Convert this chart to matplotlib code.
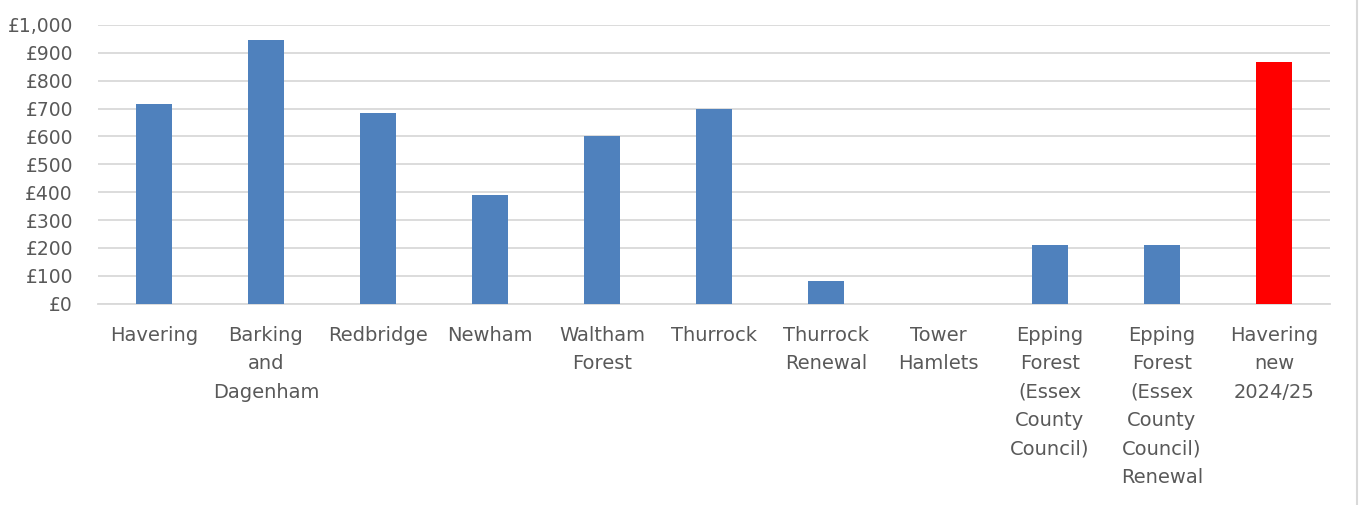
import matplotlib
matplotlib.use("Agg")
import matplotlib.pyplot as plt
from matplotlib.ticker import FuncFormatter, MultipleLocator
from matplotlib.lines import Line2D

categories = [
    "Havering",
    "Barking\nand\nDagenham",
    "Redbridge",
    "Newham",
    "Waltham\nForest",
    "Thurrock",
    "Thurrock\nRenewal",
    "Tower\nHamlets",
    "Epping\nForest\n(Essex\nCounty\nCouncil)",
    "Epping\nForest\n(Essex\nCounty\nCouncil)\nRenewal",
    "Havering\nnew\n2024/25",
]
values = [715, 945, 685, 390, 600, 700, 80, 0, 210, 210, 866]
bar_colors = ["#4F81BD"] * 10 + ["#FF0000"]

text_color = "#595959"
grid_color = "#D9D9D9"

plt.rcParams["font.family"] = ["DejaVu Sans"]

fig = plt.figure(figsize=(13.65, 5.05), dpi=100)
ax = fig.add_axes([98 / 1365, 1 - 303.7 / 505, (1330 - 98) / 1365, (303.7 - 25) / 505])

x = list(range(len(categories)))
ax.bar(x, values, width=0.32, color=bar_colors, zorder=3)

ax.set_xlim(-0.5, len(categories) - 0.5)
ax.set_ylim(0, 1000)
ax.yaxis.set_major_locator(MultipleLocator(100))
ax.yaxis.set_major_formatter(FuncFormatter(lambda v, p: "£{:,.0f}".format(v)))
ax.grid(axis="y", color=grid_color, linewidth=1.3, zorder=0)
ax.set_axisbelow(True)
for s in ["top", "right", "left"]:
    ax.spines[s].set_visible(False)
ax.spines["bottom"].set_color(grid_color)
ax.spines["bottom"].set_linewidth(1.3)

ax.set_xticks(x)
ax.set_xticklabels(categories, fontsize=14, color=text_color,
                   linespacing=1.63, va="top")
ax.tick_params(axis="x", length=0, pad=16)
ax.tick_params(axis="y", length=0, pad=18, labelsize=13.5, labelcolor=text_color)

fig.add_artist(Line2D([1357 / 1365, 1357 / 1365], [0, 1], transform=fig.transFigure,
                      color=grid_color, linewidth=1.5))

fig.savefig("out.png", dpi=100)
